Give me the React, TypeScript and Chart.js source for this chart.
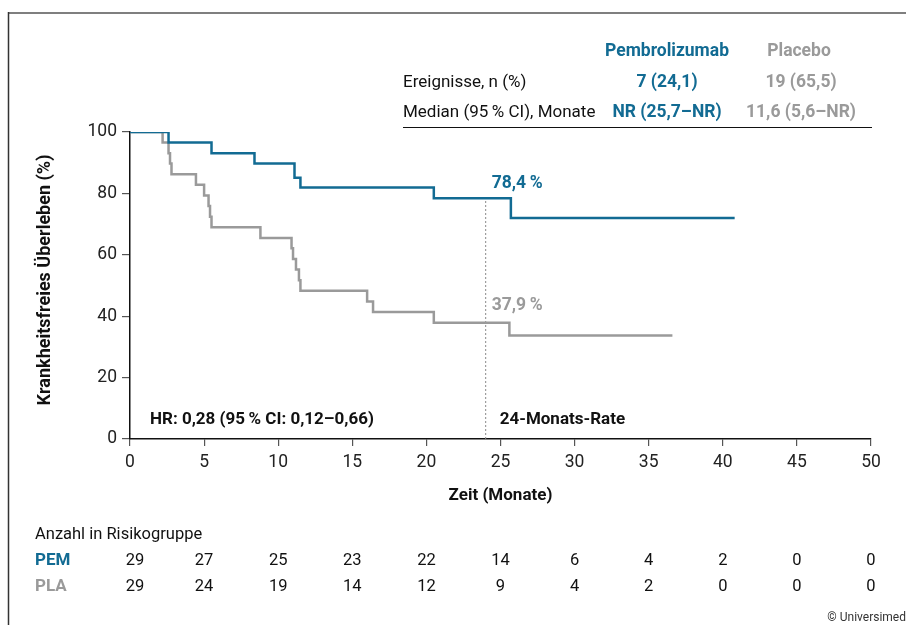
import React, { useEffect, useRef } from "react";
import { Chart, registerables } from "chart.js";

Chart.register(...registerables);

// ---- Data ----
const pemTimes = [0, 2.6, 5.5, 8.4, 11.1, 11.5, 20.5, 25.7, 40.8];
const pemSurv = [100, 96.6, 93.1, 89.7, 85.1, 81.9, 78.4, 72.0, 72.0];

const plaTimes = [0, 2.2, 2.6, 2.7, 2.8, 4.45, 5.0, 5.3, 5.4, 5.5, 8.8, 10.9, 11.0, 11.2, 11.4, 11.5, 16.0, 16.4, 20.5, 25.6, 36.6];
const plaSurv = [100, 96.6, 93.1, 89.7, 86.2, 82.8, 79.3, 75.9, 72.4, 69.0, 65.5, 62.1, 58.6, 55.2, 51.7, 48.3, 44.8, 41.4, 37.9, 33.7, 33.7];

const riskTimes = [0, 5, 10, 15, 20, 25, 30, 35, 40, 45, 50];
const pemRisk = [29, 27, 25, 23, 22, 14, 6, 4, 2, 0, 0];
const plaRisk = [29, 24, 19, 14, 12, 9, 4, 2, 0, 0, 0];

const rateMonth = 24;
const pemRateLabel = "78,4\u2009%";
const plaRateLabel = "37,9\u2009%";
const pemRate = 78.4;
const plaRate = 37.9;

const tableHeaders = ["Pembrolizumab", "Placebo"];
const tableRowLabels = ["Ereignisse, n (%)", "Median (95\u2009% CI), Monate"];
const tablePem = ["7 (24,1)", "NR (25,7–NR)"];
const tablePla = ["19 (65,5)", "11,6 (5,6–NR)"];

const hrText = "HR: 0,28 (95\u2009% CI: 0,12–0,66)";
const rateText = "24-Monats-Rate";
const xTitle = "Zeit (Monate)";
const yTitle = "Krankheitsfreies Überleben (%)";
const riskTitle = "Anzahl in Risikogruppe";
const riskLabels = ["PEM", "PLA"];
const copyright = "© Universimed";

const BLUE = "#126b93";
const GRAY = "#9a9a9a";
const FONT = "Roboto";

const overlay = {
  id: "overlay",
  afterDraw(chart: any) {
    const ctx = chart.ctx as CanvasRenderingContext2D;
    const xs = chart.scales.x;
    const ys = chart.scales.y;
    const area = chart.chartArea;
    ctx.save();

    // frame
    ctx.strokeStyle = "#7f7f7f";
    ctx.lineWidth = 2;
    ctx.beginPath();
    ctx.moveTo(8, 13);
    ctx.lineTo(906, 13);
    ctx.stroke();
    ctx.strokeStyle = "#333";
    ctx.lineWidth = 1.5;
    ctx.beginPath();
    ctx.moveTo(8.5, 12);
    ctx.lineTo(8.5, 625);
    ctx.stroke();

    // table
    ctx.textBaseline = "middle";
    ctx.font = `bold 17.5px ${FONT}`;
    ctx.textAlign = "center";
    ctx.fillStyle = BLUE;
    ctx.fillText(tableHeaders[0], 667, 52);
    ctx.fillStyle = GRAY;
    ctx.fillText(tableHeaders[1], 799, 52);
    const rowY = [83, 113];
    for (let i = 0; i < tableRowLabels.length; i++) {
      ctx.font = `17px ${FONT}`;
      ctx.textAlign = "left";
      ctx.fillStyle = "#111";
      ctx.fillText(tableRowLabels[i], 403, rowY[i]);
      ctx.font = `bold 17.5px ${FONT}`;
      ctx.textAlign = "center";
      ctx.fillStyle = BLUE;
      ctx.fillText(tablePem[i], 667, rowY[i]);
      ctx.fillStyle = GRAY;
      ctx.fillText(tablePla[i], 801, rowY[i]);
    }
    ctx.strokeStyle = "#111";
    ctx.lineWidth = 1.2;
    ctx.beginPath();
    ctx.moveTo(403, 127.5);
    ctx.lineTo(872, 127.5);
    ctx.stroke();

    // annotations
    const rx = xs.getPixelForValue(rateMonth);
    ctx.font = `bold 17.5px ${FONT}`;
    ctx.textAlign = "left";
    ctx.fillStyle = BLUE;
    ctx.fillText(pemRateLabel, rx + 6, ys.getPixelForValue(pemRate) - 15);
    ctx.fillStyle = GRAY;
    ctx.fillText(plaRateLabel, rx + 6, ys.getPixelForValue(plaRate) - 17);
    ctx.font = `bold 17px ${FONT}`;
    ctx.fillStyle = "#111";
    ctx.fillText(hrText, 150, 420);
    ctx.fillText(rateText, rx + 14, 420);

    // axis titles
    ctx.textAlign = "center";
    ctx.fillText(xTitle, (area.left + area.right) / 2, 496);
    ctx.save();
    ctx.font = `bold 18px ${FONT}`;
    ctx.translate(45, 280);
    ctx.rotate(-Math.PI / 2);
    ctx.fillText(yTitle, 0, 0);
    ctx.restore();

    // risk table
    ctx.font = `16.5px ${FONT}`;
    ctx.textAlign = "left";
    ctx.fillStyle = "#111";
    ctx.fillText(riskTitle, 35, 535);
    ctx.font = `bold 17px ${FONT}`;
    ctx.fillStyle = BLUE;
    ctx.fillText(riskLabels[0], 35, 561);
    ctx.fillStyle = GRAY;
    ctx.fillText(riskLabels[1], 35, 587);
    ctx.font = `16.5px ${FONT}`;
    ctx.textAlign = "center";
    ctx.fillStyle = "#111";
    for (let i = 0; i < riskTimes.length; i++) {
      const px = xs.getPixelForValue(riskTimes[i]);
      ctx.fillText(String(pemRisk[i]), px + (i === 0 ? 5 : 0), 561);
      ctx.fillText(String(plaRisk[i]), px + (i === 0 ? 5 : 0), 587);
    }

    ctx.font = `12px ${FONT}`;
    ctx.textAlign = "right";
    ctx.fillStyle = "#333";
    ctx.fillText(copyright, 906, 618);
    ctx.restore();
  },
};

export default function App() {
  const ref = useRef<HTMLCanvasElement>(null);
  useEffect(() => {
    if (!ref.current) return;
    Chart.defaults.font.family = FONT;
    const chart = new Chart(ref.current, {
      type: "line",
      data: {
        datasets: [
          {
            label: "Pembrolizumab",
            data: pemTimes.map((t, i) => ({ x: t, y: pemSurv[i] })),
            borderColor: BLUE,
            borderWidth: 2.5,
            stepped: "before",
            pointRadius: 0,
            fill: false,
          },
          {
            label: "Placebo",
            data: plaTimes.map((t, i) => ({ x: t, y: plaSurv[i] })),
            borderColor: GRAY,
            borderWidth: 2.5,
            stepped: "before",
            pointRadius: 0,
            fill: false,
          },
          {
            label: "24-Monats-Rate",
            data: [
              { x: rateMonth, y: 0 },
              { x: rateMonth, y: pemRate },
            ],
            borderColor: "#8a8a8a",
            borderWidth: 1,
            borderDash: [2, 2],
            pointRadius: 0,
            fill: false,
          },
        ],
      },
      options: {
        animation: false,
        responsive: false,
        layout: { padding: { top: 132, right: 35, bottom: 116, left: 0 } },
        plugins: { legend: { display: false }, tooltip: { enabled: false } },
        scales: {
          x: {
            type: "linear",
            min: 0,
            max: 50,
            ticks: { stepSize: 5, color: "#222", font: { size: 17.5 }, padding: 6, maxRotation: 0 },
            grid: { drawOnChartArea: false, drawTicks: true, tickLength: 7, color: "#555", lineWidth: 1.2 },
            border: { display: true, color: "#111", width: 1.5 },
            afterFit: (s: any) => {
              s.height = 70;
            },
          },
          y: {
            type: "linear",
            min: 0,
            max: 100,
            ticks: { stepSize: 20, color: "#222", font: { size: 17.5 }, padding: 5 },
            grid: { drawOnChartArea: false, drawTicks: true, tickLength: 8, color: "#555", lineWidth: 1.2 },
            border: { display: true, color: "#111", width: 1.5 },
            afterFit: (s: any) => {
              s.width = 130;
            },
          },
        },
      },
      plugins: [overlay],
    });
    return () => chart.destroy();
  }, []);
  return (
    <div style={{ position: "fixed", left: 0, top: 0, width: 906, height: 625, background: "#fff" }}>
      <canvas ref={ref} width={906} height={625} style={{ display: "block" }} />
    </div>
  );
}
